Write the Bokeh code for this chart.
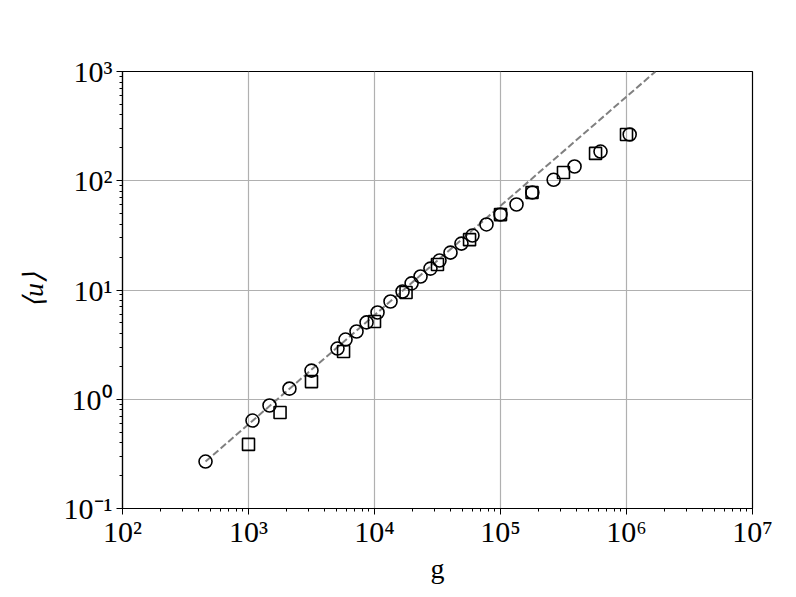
from bokeh.plotting import figure
from bokeh.embed import file_html
from bokeh.resources import INLINE
from bokeh.models import LogTicker, CustomJSTickFormatter

# --- data ---
circle_g = [456, 1076, 1468, 2113, 3162, 5085, 5890, 7200, 8650, 10570, 13400,
            16700, 19700, 23200, 27800, 32800, 40100, 49000, 59900, 77400,
            100000, 134000, 179000, 264000, 387000, 622000, 1060000]
circle_u = [0.269, 0.638, 0.877, 1.25, 1.83, 2.91, 3.52, 4.17, 5.05, 6.22, 7.85,
            9.69, 11.5, 13.3, 15.7, 18.6, 22.0, 26.6, 31.5, 39.8,
            49.1, 60.6, 78.0, 102, 135, 185, 265]
square_g = [1000, 1780, 3162, 5680, 10000, 17800, 31600, 56800, 100000,
            178000, 316000, 568000, 1000000]
square_u = [0.386, 0.757, 1.45, 2.74, 5.15, 9.48, 17.1, 28.9, 49.0,
            78.0, 119, 178, 265]
fit_g = [456, 1700000]
fit_u = [0.269, 1000]

x_range = (1e2, 1e7)
y_range = (1e-1, 1e3)

FONT = "Liberation Serif"

p = figure(x_axis_type="log", y_axis_type="log", x_range=x_range, y_range=y_range,
           frame_width=630, frame_height=437, min_border_left=122, min_border_right=40,
           min_border_top=71, min_border_bottom=84, output_backend="svg",
           toolbar_location=None, background_fill_color="white")

p.outline_line_color = "black"
p.outline_line_width = 1.2

fmt = CustomJSTickFormatter(code="""
const sup = {'-':'\u207b','0':'\u2070','1':'\u00b9','2':'\u00b2','3':'\u00b3','4':'\u2074','5':'\u2075','6':'\u2076','7':'\u2077','8':'\u2078','9':'\u2079'};
const e = Math.round(Math.log10(tick));
return '10' + String(e).split('').map(c => sup[c]).join('');
""")

for ax in (p.xaxis[0], p.yaxis[0]):
    ax.ticker = LogTicker(num_minor_ticks=10, desired_num_ticks=6)
    ax.formatter = fmt
    ax.major_label_text_font = FONT
    ax.major_label_text_font_size = "30px"
    ax.major_label_text_color = "black"
    ax.axis_label_text_font = FONT
    ax.axis_label_text_font_size = "28px"
    ax.axis_label_text_color = "black"
    ax.axis_line_color = "black"
    ax.axis_line_width = 1.2
    ax.major_tick_line_color = "black"
    ax.minor_tick_line_color = "black"
    ax.major_tick_out = 6
    ax.major_tick_in = 0
    ax.minor_tick_out = 3
    ax.minor_tick_in = 0

p.xaxis.major_label_standoff = 0
p.yaxis.major_label_standoff = 4
p.xaxis.axis_label = "g"
p.xaxis.axis_label_text_font_style = "normal"
p.xaxis.axis_label_standoff = 2
p.yaxis.axis_label = "⟨u⟩"
p.yaxis.axis_label_text_font_style = "italic"
p.yaxis.axis_label_standoff = 12
p.yaxis.major_label_orientation = "horizontal"

p.xgrid.ticker = LogTicker(desired_num_ticks=6)
p.ygrid.ticker = LogTicker(desired_num_ticks=6)
p.grid.grid_line_color = "#b0b0b0"
p.grid.grid_line_width = 1.2

p.line(fit_g, fit_u, line_color="gray", line_dash="7 3", line_width=2)
p.scatter(circle_g, circle_u, marker="circle", size=13, fill_color=None,
          line_color="black", line_width=1.6)
p.scatter(square_g, square_u, marker="square", size=12, fill_color=None,
          line_color="black", line_width=1.6)

open("out.html", "w").write(file_html(p, INLINE))
